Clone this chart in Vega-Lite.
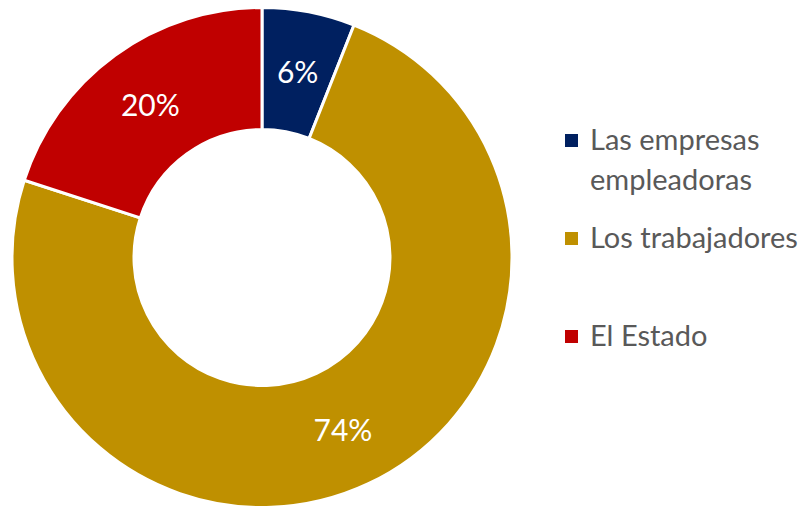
{
  "$schema": "https://vega.github.io/schema/vega-lite/v6.json",
  "autosize": {"type": "none"},
  "padding": {"left": 0, "top": 3, "right": 284, "bottom": 0},
  "width": 524,
  "height": 509,
  "background": "white",
  "view": {"stroke": null},
  "config": {"style": {"guide-label": {"lineHeight": 40}}},
  "data": {
    "values": [
      {"grupo": "Las empresas empleadoras", "pct": 0.06, "orden": 1},
      {"grupo": "Los trabajadores", "pct": 0.74, "orden": 2},
      {"grupo": "El Estado", "pct": 0.20, "orden": 3}
    ]
  },
  "encoding": {
    "theta": {"field": "pct", "type": "quantitative", "stack": true},
    "order": {"field": "orden", "type": "quantitative"},
    "color": {
      "field": "grupo",
      "type": "nominal",
      "scale": {
        "domain": ["Las empresas empleadoras", "Los trabajadores", "El Estado"],
        "range": ["#002060", "#BF9000", "#C00000"]
      },
      "legend": {
        "title": null,
        "orient": "none",
        "legendX": 557,
        "legendY": 123,
        "symbolType": "square",
        "symbolSize": 169,
        "symbolStrokeWidth": 0,
        "labelFont": "Lato",
        "labelFontSize": 29,
        "labelColor": "#595959",
        "labelLimit": 300,
        "labelOffset": 4,
        "rowPadding": 28,
        "labelExpr": "datum.label == 'Las empresas empleadoras' ? ['Las empresas', 'empleadoras'] : [datum.label, ' ']"
      }
    }
  },
  "layer": [
    {
      "mark": {"type": "arc", "outerRadius": 250, "innerRadius": 128, "stroke": "white", "strokeWidth": 3}
    },
    {
      "mark": {"type": "text", "radius": 190, "font": "Lato", "fontSize": 30, "fill": "white", "dy": 3},
      "encoding": {
        "text": {"field": "pct", "type": "quantitative", "format": ".0%"},
        "color": {"value": "white"}
      }
    }
  ]
}
